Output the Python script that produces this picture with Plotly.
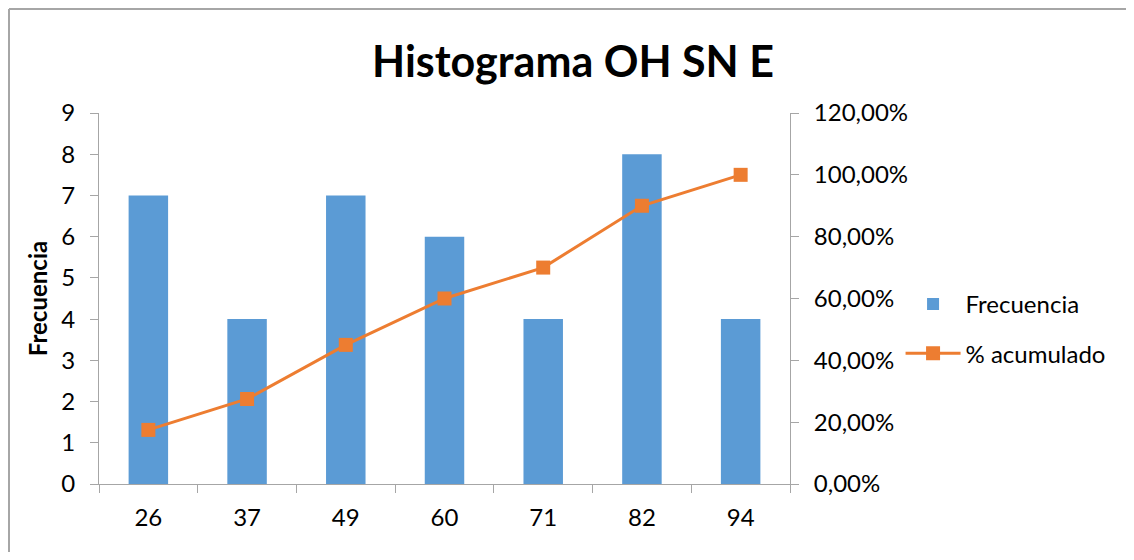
import plotly.graph_objects as go

categories = ["26", "37", "49", "60", "71", "82", "94"]
frecuencia = [7, 4, 7, 6, 4, 8, 4]
acumulado = [0.175, 0.275, 0.45, 0.60, 0.70, 0.90, 1.00]
left_ticks = [0, 1, 2, 3, 4, 5, 6, 7, 8, 9]
right_ticks = [0, 0.2, 0.4, 0.6, 0.8, 1.0, 1.2]

FONT = "Lato, Calibri, Carlito, sans-serif"
AXIS = "#a6a6a6"

# page body has an 8px margin, so compensate (and avoid scrollbars)
W, H = 1118, 544
L, T = 91, 105
PW, PH = 691, 371

fig = go.Figure()
fig.add_trace(go.Bar(
    x=categories, y=frecuencia, name="Frecuencia", legendgroup="a",
    marker=dict(color="#5B9BD5", line=dict(width=0)), width=0.4,
))
fig.add_trace(go.Scatter(
    x=categories, y=acumulado, name="% acumulado", yaxis="y2", legendgroup="b",
    mode="lines+markers",
    line=dict(color="#ED7D31", width=3),
    marker=dict(symbol="square", size=14, color="#ED7D31"),
))

bx0 = -(L - 1) / PW
by1 = 1 + (T - 1) / PH
frame = dict(color="#a6a6a6", width=2)

fig.update_layout(
    width=W, height=H,
    margin=dict(l=L, r=W - L - PW, t=T, b=H - T - PH),
    paper_bgcolor="white", plot_bgcolor="white",
    separators=",.",
    font=dict(family=FONT, size=24, color="#000000"),
    title=dict(text="<b>Histograma OH SN E</b>", x=(573 - 8 - L) / PW,
               xanchor="center", xref="paper",
               y=1 - (62 - 8) / H, yanchor="middle",
               font=dict(family=FONT, size=43, color="#000000")),
    showlegend=True,
    legend=dict(x=1.16, y=0.418, xanchor="left", yanchor="middle",
                font=dict(family=FONT, size=24), itemwidth=55,
                tracegroupgap=15, bgcolor="rgba(0,0,0,0)"),
    xaxis=dict(type="category", showline=True, linecolor=AXIS, linewidth=1,
               ticks="outside", tickson="boundaries", ticklen=8, tickcolor=AXIS,
               showgrid=False, tickfont=dict(size=24), zeroline=False,
               ticklabelstandoff=12),
    yaxis=dict(range=[0, 9], tickvals=left_ticks, showline=True, linecolor=AXIS,
               ticks="outside", ticklen=8, tickcolor=AXIS, showgrid=False,
               zeroline=False, tickfont=dict(size=24), ticklabelstandoff=10,
               title=dict(text="<b>Frecuencia</b>", font=dict(size=24), standoff=6)),
    yaxis2=dict(overlaying="y", side="right", range=[0, 1.2], tickvals=right_ticks,
                tickformat=".2%", showline=True, linecolor=AXIS, ticks="outside",
                ticklen=8, tickcolor=AXIS, showgrid=False, zeroline=False,
                tickfont=dict(size=24), ticklabelstandoff=10),
    shapes=[
        dict(type="line", xref="paper", yref="paper", x0=bx0, x1=1 + 400 / PW,
             y0=by1, y1=by1, line=frame, layer="below"),
        dict(type="line", xref="paper", yref="paper", x0=bx0, x1=bx0,
             y0=by1, y1=-200 / PH, line=frame, layer="below"),
    ],
)

fig.write_html("out.html")
